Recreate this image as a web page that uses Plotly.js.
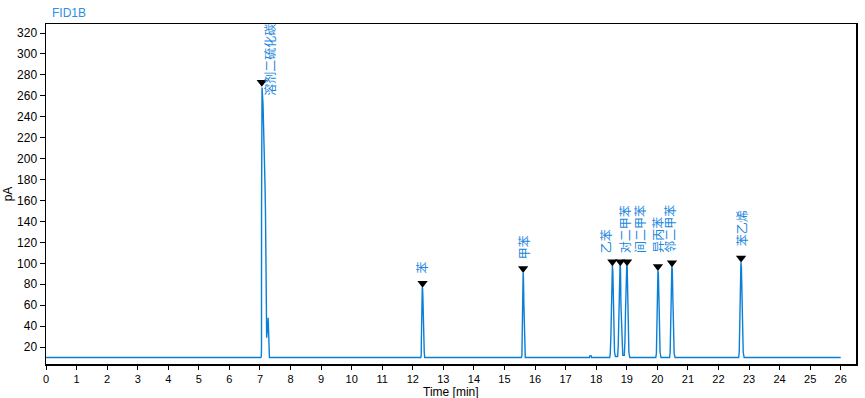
<!DOCTYPE html>
<html>
<head>
<meta charset="utf-8">
<script src="https://cdn.plot.ly/plotly-3.0.1.min.js"></script>
<style>html,body{margin:0;padding:0;background:#fff;}#chart{width:865px;height:398px;}</style>
</head>
<body>
<div id="chart"></div>
<script>
// Chromatogram signal (Time [min], pA)
const time = [
  0, 7.03, 7.045, 7.05, 7.052, 7.06, 7.068, 7.08, 7.10, 7.117, 7.13, 7.15, 7.165, 7.18, 7.20, 7.21, 7.218, 7.235, 7.255, 7.268, 7.28, 7.29, 7.31,
  12.26, 12.275, 12.28, 12.29, 12.30, 12.31, 12.32, 12.33, 12.345, 12.355, 12.365, 12.375, 12.39,
  15.55, 15.57, 15.58, 15.59, 15.60, 15.61, 15.62, 15.635, 15.65, 15.665, 15.68,
  17.78, 17.79, 17.84, 17.85,
  18.44, 18.46, 18.48, 18.50, 18.52, 18.53, 18.545, 18.56, 18.58, 18.60, 18.63,
  18.70, 18.72, 18.74, 18.76, 18.78, 18.795, 18.81, 18.83, 18.85, 18.87,
  18.92, 18.94, 18.96, 18.98, 19.00, 19.015, 19.03, 19.05, 19.07, 19.10,
  19.95, 19.97, 19.99, 20.005, 20.02, 20.035, 20.05, 20.07, 20.09, 20.12,
  20.40, 20.42, 20.44, 20.46, 20.475, 20.49, 20.51, 20.53, 20.55, 20.58,
  22.66, 22.68, 22.70, 22.72, 22.735, 22.75, 22.77, 22.79, 22.81, 22.84,
  26
];
const signal = [
  10, 10, 11, 20, 150, 213, 268, 262, 252, 237, 220, 199, 175, 151, 113, 60, 29, 33, 40, 48, 35, 14, 10,
  10, 12, 25, 40, 70, 77, 76, 68, 35, 20, 28, 15, 10,
  10, 12, 30, 60, 88, 91, 87, 60, 35, 15, 10,
  10, 11.5, 11.5, 10,
  10, 13, 30, 60, 95, 98, 92, 55, 30, 15, 11,
  11, 20, 40, 75, 98, 95, 60, 35, 18, 12,
  12, 25, 55, 85, 98, 96, 70, 35, 15, 10,
  10, 14, 45, 80, 93, 90, 70, 35, 15, 10,
  10, 15, 45, 85, 97, 94, 65, 30, 14, 10,
  10, 15, 50, 90, 101, 97, 70, 35, 15, 10,
  10
];

// Peak markers and names
const peakTimes = [7.06, 12.32, 15.61, 18.53, 18.79, 19.01, 20.02, 20.48, 22.74];
const peakMarkY = [273, 81, 95, 101.5, 101.5, 101.5, 97, 100.5, 105];
const peakNames = ['溶剂二硫化碳', '苯', '甲苯', '乙苯', '对二甲苯', '间二甲苯', '异丙苯', '邻二甲苯', '苯乙烯'];

// label placement (layout only)
const labelBottom = [259, 89, 103, 109, 109, 109, 109, 109, 115.5];
const labelShift = [8, -1, 0, -7, 5, 13, 0, -2, 0];

const blue = '#0a7fd6';
const axisFont = {family: '"Liberation Sans", Arial, sans-serif', size: 12, color: '#000'};

const traces = [
  {x: time, y: signal, type: 'scatter', mode: 'lines',
   line: {color: blue, width: 1.4}, hoverinfo: 'skip', showlegend: false},
  {x: peakTimes, y: peakMarkY, type: 'scatter', mode: 'markers',
   marker: {symbol: 'triangle-down', size: 9, color: '#000'}, showlegend: false}
];

const annotations = peakNames.map((n, i) => ({
  x: peakTimes[i], y: labelBottom[i], xref: 'x', yref: 'y',
  text: n, showarrow: false, textangle: -90,
  xanchor: 'center', yanchor: 'bottom', xshift: labelShift[i],
  font: {family: '"Noto Sans CJK SC", sans-serif', size: 12, color: '#1a86dc'},
  borderpad: 0
}));
// x-axis title
annotations.push({
  text: 'Time [min]', xref: 'paper', yref: 'paper', x: 0.5, y: 0,
  xanchor: 'center', yanchor: 'top', yshift: -20, showarrow: false,
  font: axisFont, borderpad: 0
});

const layout = {
  width: 865, height: 398,
  margin: {l: 46, r: 9, t: 24, b: 34, pad: 0},
  paper_bgcolor: '#fff', plot_bgcolor: '#fff',
  title: {text: 'FID1B', x: 52/865, xref: 'container', xanchor: 'left',
          y: 1 - 13/398, yref: 'container', yanchor: 'middle',
          font: {family: '"Liberation Sans", Arial, sans-serif', size: 12, color: '#2a8fe8'}},
  xaxis: {
    range: [0, 26.5], tickmode: 'array',
    tickvals: [0,1,2,3,4,5,6,7,8,9,10,11,12,13,14,15,16,17,18,19,20,21,22,23,24,25,26],
    ticks: 'outside', ticklen: 4, tickcolor: '#000', tickwidth: 1,
    showgrid: false, zeroline: false, showline: true, linecolor: '#000', linewidth: 1.5, mirror: true,
    tickfont: {family: '"Liberation Sans", Arial, sans-serif', size: 11, color: '#000'}, automargin: false
  },
  yaxis: {
    range: [3.8, 328.6], tickmode: 'array',
    tickvals: [20,40,60,80,100,120,140,160,180,200,220,240,260,280,300,320],
    ticks: 'outside', ticklen: 5, tickcolor: '#000', tickwidth: 1,
    showgrid: false, zeroline: false, showline: true, linecolor: '#000', linewidth: 1.5, mirror: true,
    tickfont: axisFont, automargin: false,
    title: {text: 'pA', font: axisFont, standoff: 2}
  },
  annotations: annotations
};

Plotly.newPlot('chart', traces, layout, {displayModeBar: false, staticPlot: true});
</script>
</body>
</html>
